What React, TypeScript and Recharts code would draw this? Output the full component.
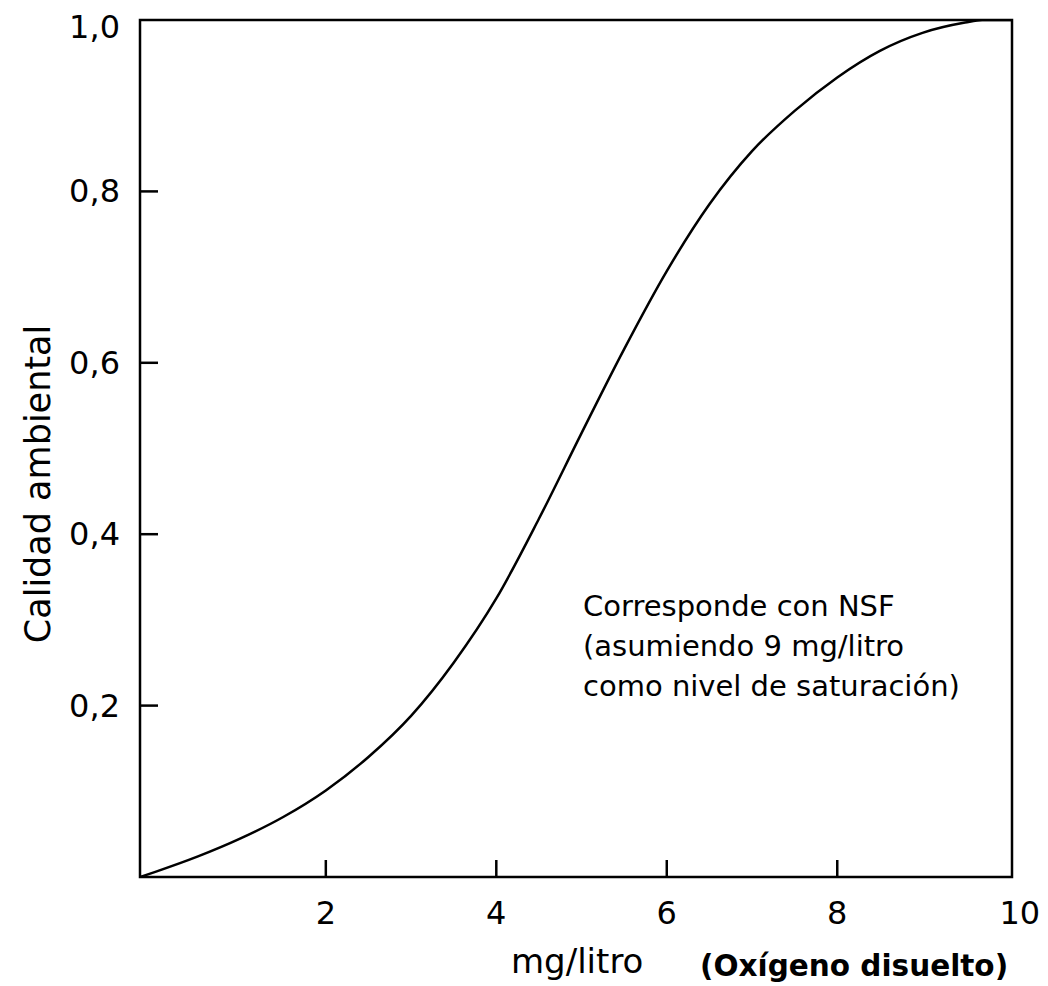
import React from "react";
import {
  LineChart,
  Line,
  XAxis,
  YAxis,
  ReferenceArea,
  Customized,
} from "recharts";

// Dissolved oxygen (mg/litro) vs. environmental quality
const oxygenMgL = [-0.18, 0, 0.5, 1.0, 1.5, 2.0, 2.5, 3.0, 3.5, 4.0, 4.5, 5.0, 5.5, 6.0, 6.5, 7.0, 7.5, 8.0, 8.5, 9.0, 9.5, 9.7, 10.05];
const quality = [0, 0.006, 0.024, 0.045, 0.07, 0.101, 0.14, 0.188, 0.25, 0.325, 0.418, 0.518, 0.616, 0.707, 0.785, 0.847, 0.894, 0.933, 0.964, 0.985, 0.997, 1.0, 1.0];

const xTicks = [2, 4, 6, 8, 10];
const yTicks = [0.2, 0.4, 0.6, 0.8, 1.0];
const xDomain = [-0.18, 10.05];
const yDomain = [0, 1];

const yAxisTitle = "Calidad ambiental";
const xAxisTitle = "mg/litro";
const xAxisNote = "(Oxígeno disuelto)";
const annotationLines = [
  "Corresponde con NSF",
  "(asumiendo 9 mg/litro",
  "como nivel de saturación)",
];

const data = oxygenMgL.map((x, i) => ({ x, y: quality[i] }));

const FONT = "'DejaVu Sans', sans-serif";

const XTick = (props: any) => {
  const { x, y, payload } = props;
  const v = payload.value;
  return (
    <g>
      {v !== 10 && <line x1={x} y1={y} x2={x} y2={y - 17} stroke="#000" strokeWidth={2.5} />}
      <text
        x={x + (v === 10 ? 12 : 0)}
        y={y + 47}
        textAnchor="middle"
        fontFamily={FONT}
        fontSize={32}
        fill="#000"
      >
        {String(v)}
      </text>
    </g>
  );
};

const YTick = (props: any) => {
  const { x, y, payload } = props;
  const v = payload.value;
  return (
    <g>
      {v !== 1 && <line x1={x} y1={y} x2={x + 18} y2={y} stroke="#000" strokeWidth={2.5} />}
      <text
        x={x - 20}
        y={y + 11 + (v === 1 ? 7 : 0)}
        textAnchor="end"
        fontFamily={FONT}
        fontSize={32}
        fill="#000"
      >
        {v.toFixed(1).replace(".", ",")}
      </text>
    </g>
  );
};

const Texts = () => (
  <g>
    <text
      x={42}
      y={476}
      transform="rotate(-90 42 476)"
      textAnchor="middle"
      fontFamily={FONT}
      fontSize={35}
      fill="#000"
    >
      {yAxisTitle}
    </text>
    {annotationLines.map((t, i) => (
      <text key={i} x={575} y={608 + i * 40} fontFamily={FONT} fontSize={29} fill="#000">
        {t}
      </text>
    ))}
    <text x={503} y={965} fontFamily={FONT} fontSize={34} fill="#000">
      {xAxisTitle}
    </text>
    <text x={692} y={968} fontFamily={FONT} fontSize={29.5} fontWeight="bold" fill="#000">
      {xAxisNote}
    </text>
  </g>
);

export default function App() {
  return (
    <div style={{ width: 1040, height: 978, background: "#fff" }}>
      <LineChart
        width={1040}
        height={978}
        data={data}
        margin={{ top: 12, right: 36, left: 0, bottom: 49 }}
        style={{ overflow: "visible" }}
      >
        <XAxis
          dataKey="x"
          type="number"
          domain={xDomain}
          ticks={xTicks}
          allowDataOverflow
          axisLine={false}
          tickLine={false}
          tickSize={0}
          tickMargin={0}
          height={60}
          tick={<XTick />}
          interval={0}
        />
        <YAxis
          type="number"
          domain={yDomain}
          ticks={yTicks}
          allowDataOverflow
          axisLine={false}
          tickLine={false}
          tickSize={0}
          tickMargin={0}
          width={132}
          tick={<YTick />}
          interval={0}
        />
        <ReferenceArea
          x1={xDomain[0]}
          x2={xDomain[1]}
          y1={yDomain[0]}
          y2={yDomain[1]}
          fill="none"
          stroke="#000"
          strokeWidth={2.5}
          ifOverflow="visible"
        />
        <Line
          type="monotone"
          dataKey="y"
          stroke="#000"
          strokeWidth={2.5}
          dot={false}
          isAnimationActive={false}
        />
        <Customized component={Texts} />
      </LineChart>
    </div>
  );
}
